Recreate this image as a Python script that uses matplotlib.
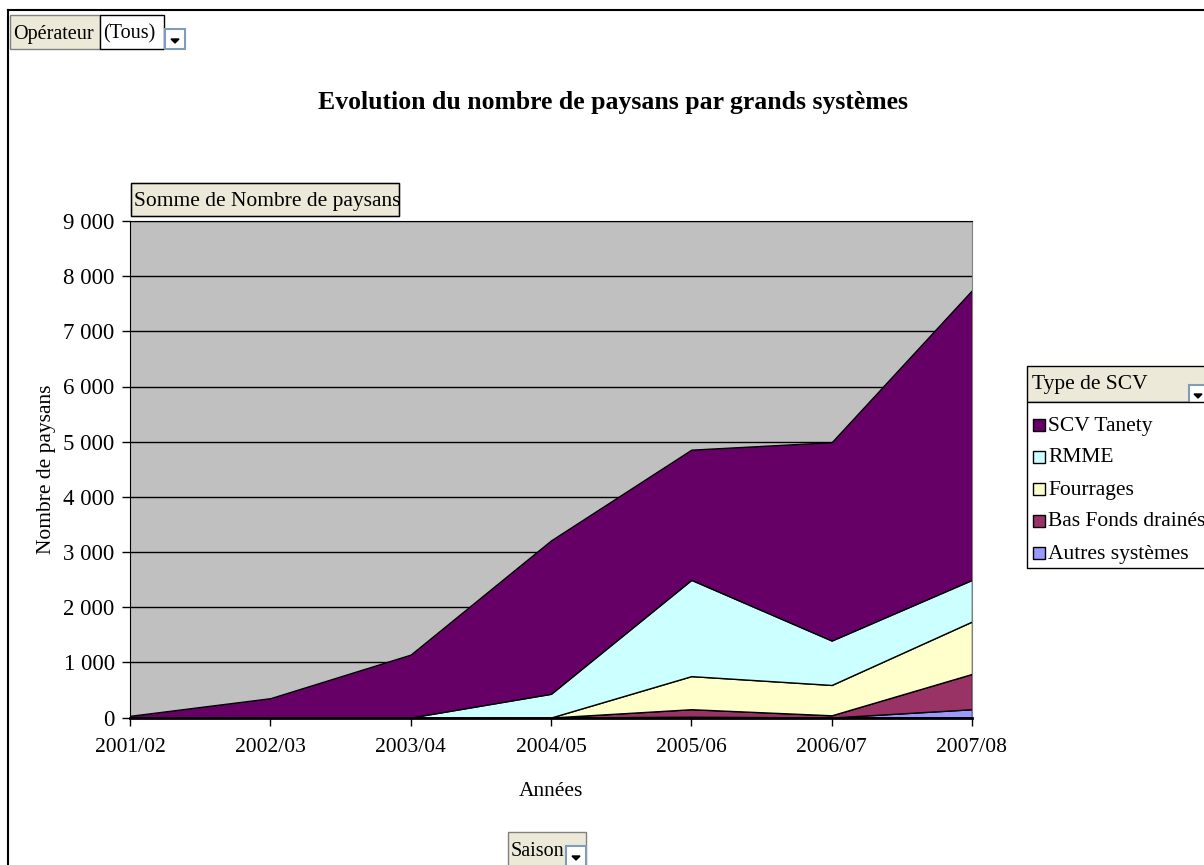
import matplotlib
matplotlib.use('Agg')
import matplotlib.pyplot as plt
from matplotlib.patches import Rectangle, Polygon
from matplotlib.ticker import FuncFormatter

plt.rcParams['font.family'] = ['Liberation Serif', 'DejaVu Serif']

annees = ['2001/02', '2002/03', '2003/04', '2004/05', '2005/06', '2006/07', '2007/08']
autres = [0, 0, 0, 0, 15, 0, 150]
bas_fonds = [0, 0, 0, 0, 135, 40, 640]
fourrages = [0, 0, 0, 0, 600, 550, 950]
rmme = [0, 0, 0, 430, 1745, 805, 755]
scv_tanety = [30, 350, 1140, 2780, 2360, 3595, 5250]

series = ['Autres systèmes', 'Bas Fonds drainés', 'Fourrages', 'RMME', 'SCV Tanety']
colors = ['#9999FF', '#993366', '#FFFFCC', '#CCFFFF', '#660066']

FS = 15.5
W, H = 1204, 865
fig = plt.figure(figsize=(W / 100, H / 100), dpi=100)

# plot area
ax = fig.add_axes([130 / W, 1 - 717.5 / H, (972 - 130) / W, (717.5 - 221) / H])
ax.set_facecolor('#C0C0C0')
x = list(range(len(annees)))
ax.stackplot(x, autres, bas_fonds, fourrages, rmme, scv_tanety,
             colors=colors, edgecolor='black', linewidth=1, labels=series)
ax.set_xlim(0, len(annees) - 1)
ax.set_ylim(0, 9000)
ax.set_yticks(range(0, 9001, 1000))
ax.yaxis.set_major_formatter(FuncFormatter(lambda v, p: f'{int(v):,}'.replace(',', ' ')))
ax.set_xticks(x)
ax.set_xticklabels(annees)
ax.set_axisbelow(True)
ax.grid(axis='y', color='black', linewidth=1)
ax.tick_params(axis='both', direction='out', length=6, width=1, labelsize=FS, colors='black')
ax.tick_params(axis='y', labelsize=16.5)
ax.tick_params(axis='x', pad=9)
ax.tick_params(axis='y', pad=5)
ax.spines['left'].set_color('black')
ax.spines['bottom'].set_color('black')
ax.spines['bottom'].set_linewidth(2)
ax.spines['top'].set_color('black')
ax.spines['right'].set_color('#808080')
ax.set_xlabel('Années', fontsize=FS, labelpad=18)
ax.set_ylabel('Nombre de paysans', fontsize=FS, labelpad=5)

fig.text(613 / W, 1 - 103 / H, 'Evolution du nombre de paysans par grands systèmes',
         ha='center', va='center', fontsize=18.5, fontweight='bold')

# overlay for pivot-table buttons and frame
ov = fig.add_axes([0, 0, 1, 1], zorder=5)
ov.set_xlim(0, W)
ov.set_ylim(H, 0)
ov.axis('off')
ov.patch.set_alpha(0)

ov.plot([8, W], [10, 10], color='black', lw=1.5)
ov.plot([8, 8], [10, H], color='black', lw=1.5)

beige = '#ECE9D8'


def button(x0, y0, w, h, text, fs=FS):
    ov.add_patch(Rectangle((x0, y0), w, h, facecolor=beige, edgecolor='#808080', lw=1))
    ov.text(x0 + 3, y0 + h / 2 + 2, text, ha='left', va='center', fontsize=fs)


def dropdown(x0, y0, s=20):
    ov.add_patch(Rectangle((x0, y0), s, s, facecolor='white', edgecolor='#7F9DB9', lw=1.5))
    cx, cy = x0 + s / 2, y0 + s / 2 + 2
    ov.add_patch(Polygon([[cx - 4, cy - 2], [cx + 4, cy - 2], [cx, cy + 2]], closed=True,
                         facecolor='black', edgecolor='black'))


button(10, 15, 90, 34, 'Opérateur', 14.5)
ov.add_patch(Rectangle((100, 15), 64, 34, facecolor='white', edgecolor='black', lw=1))
ov.text(103, 34, '(Tous)', ha='left', va='center', fontsize=14.5)
dropdown(165, 29)

button(131, 183, 268, 33, 'Somme de Nombre de paysans')
ov.add_patch(Rectangle((131, 183), 268, 33, facecolor='none', edgecolor='black', lw=1))

button(508, 832, 78, 34, 'Saison', 14.5)
dropdown(566, 846)

# legend
ov.add_patch(Rectangle((1027, 366), 200, 36, facecolor=beige, edgecolor='black', lw=1))
ov.text(1032, 384, 'Type de SCV', ha='left', va='center', fontsize=FS)
dropdown(1189, 385, 18)
ov.add_patch(Rectangle((1027, 402), 200, 166, facecolor='white', edgecolor='black', lw=1))
for i, (name, col) in enumerate(zip(series[::-1], colors[::-1])):
    yy = 425 + i * 32
    ov.add_patch(Rectangle((1033, yy - 6), 12, 12, facecolor=col, edgecolor='black', lw=1))
    ov.text(1048, yy + 1, name, ha='left', va='center', fontsize=FS)

fig.savefig('out.png', dpi=100)
